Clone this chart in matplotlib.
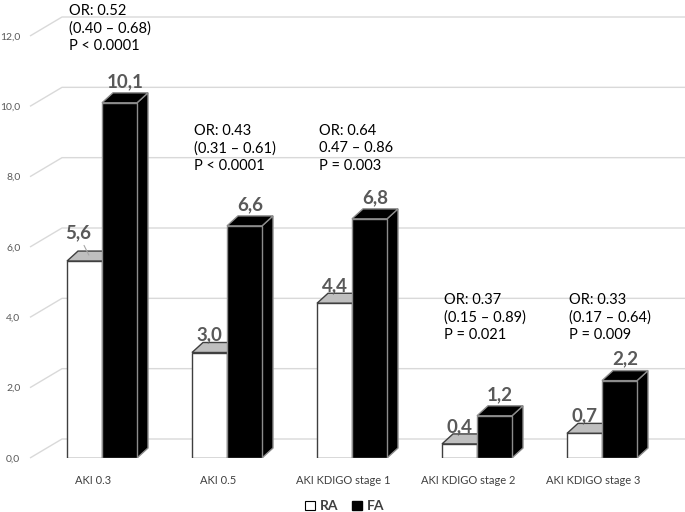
import matplotlib
matplotlib.use('Agg')
import matplotlib.pyplot as plt
from matplotlib.patches import Polygon, Patch
from matplotlib.font_manager import FontProperties

plt.rcParams['font.family'] = ['Lato', 'DejaVu Sans']

categories = ["AKI 0.3", "AKI 0.5", "AKI KDIGO stage 1", "AKI KDIGO stage 2", "AKI KDIGO stage 3"]
ra = [5.6, 3.0, 4.4, 0.4, 0.7]
fa = [10.1, 6.6, 6.8, 1.2, 2.2]
or_texts = [
    "OR: 0.52\n(0.40 \u2013 0.68)\nP < 0.0001",
    "OR: 0.43\n(0.31 \u2013 0.61)\nP < 0.0001",
    "OR: 0.64\n0.47 \u2013 0.86\nP = 0.003",
    "OR: 0.37\n(0.15 \u2013 0.89)\nP = 0.021",
    "OR: 0.33\n(0.17 \u2013 0.64)\nP = 0.009",
]
or_tops = [12.9, 9.5, 9.5, 4.68, 4.68]
yticks = [0, 2, 4, 6, 8, 10, 12]

W, H = 685, 512
fig = plt.figure(figsize=(W / 100, H / 100), dpi=100)
ax = fig.add_axes([30 / W, 54 / H, 655 / W, 422 / H])
ax.set_xlim(-0.576, 4.664)
ax.set_ylim(0, 12)
for s in ax.spines.values():
    s.set_visible(False)

PX = 125.0      # px per category unit
PY = 422 / 12   # px per value unit
dx, dy = 11 / PX, 10 / PY          # bar depth
wdx, wdy = 32 / PX, 19 / PY        # back wall offset
bw = 0.28
grid_c = '#d9d9d9'
txt_c = '#595959'

# 3D-ish gridlines on back wall
x_left, x_right = ax.get_xlim()
for v in yticks:
    ax.plot([x_left, x_left + wdx, x_right], [v, v + wdy, v + wdy],
            color=grid_c, lw=1, zorder=1, clip_on=False, solid_capstyle='butt')


def bar3d(x0, v, face, top, side, edge, z):
    x1 = x0 + bw
    front = Polygon([(x0, 0), (x1, 0), (x1, v), (x0, v)], closed=True,
                    facecolor=face, edgecolor=edge, lw=1, zorder=z)
    sidep = Polygon([(x1, 0), (x1 + dx, dy), (x1 + dx, v + dy), (x1, v)], closed=True,
                    facecolor=side, edgecolor=edge, lw=1, zorder=z)
    topp = Polygon([(x0, v), (x0 + dx, v + dy), (x1 + dx, v + dy), (x1, v)], closed=True,
                   facecolor=top, edgecolor=edge, lw=1, zorder=z)
    for p in (sidep, topp, front):
        ax.add_patch(p)


for i, (r, f) in enumerate(zip(ra, fa)):
    bar3d(i - bw, r, 'white', '#bfbfbf', 'white', '#3f3f3f', 3)
    bar3d(i, f, 'black', 'black', 'black', '#8c8c8c', 4)

    # value labels
    ax.annotate(f"{f:.1f}".replace('.', ','), xy=(i + bw / 2 + dx / 2, f),
                xytext=(0, 11.5), textcoords='offset points', ha='center', va='baseline',
                fontsize=13.5, fontweight='bold', color=txt_c, zorder=6)
    if i == 0:
        ax.annotate(f"{r:.1f}".replace('.', ','), xy=(i - bw / 2 + 0.035, r + dy * 0.6),
                    xytext=(-8, 12), textcoords='offset points', ha='center', va='baseline',
                    fontsize=13.5, fontweight='bold', color=txt_c, zorder=6,
                    arrowprops=dict(arrowstyle='-', color='#a6a6a6', lw=0.8,
                                    shrinkA=1, shrinkB=0))
    else:
        ax.annotate(f"{r:.1f}".replace('.', ','), xy=(i - bw / 2, r),
                    xytext=(0, 8.5), textcoords='offset points', ha='center', va='baseline',
                    fontsize=13.5, fontweight='bold', color=txt_c, zorder=6)

    # OR annotations
    ax.text(i - 0.264, or_tops[i], or_texts[i], ha='left', va='top', fontsize=10.5,
            color='black', linespacing=1.3, zorder=7, clip_on=False)

ax.set_yticks(yticks)
ax.set_yticklabels([f"{v:.1f}".replace('.', ',') for v in yticks], fontsize=7.5, color=txt_c)
ax.set_xticks([i - 0.07 for i in range(len(categories))])
ax.set_xticklabels(categories, fontsize=8, color='#404040')
ax.tick_params(axis='y', length=0, pad=7)
ax.tick_params(axis='x', length=0, pad=12)

handles = [Patch(facecolor='white', edgecolor='black', lw=0.8, label='RA'),
           Patch(facecolor='black', edgecolor='black', label='FA')]
leg_font = FontProperties(family=['Lato', 'DejaVu Sans'], weight='bold', size=10)
fig.legend(handles=handles, loc='lower center', bbox_to_anchor=(345 / W, -0.025), ncol=2,
           frameon=False, handlelength=0.7, handleheight=0.7, handletextpad=0.35,
           columnspacing=1.0, prop=leg_font, labelcolor='#404040')

fig.savefig('out.png', dpi=100)
